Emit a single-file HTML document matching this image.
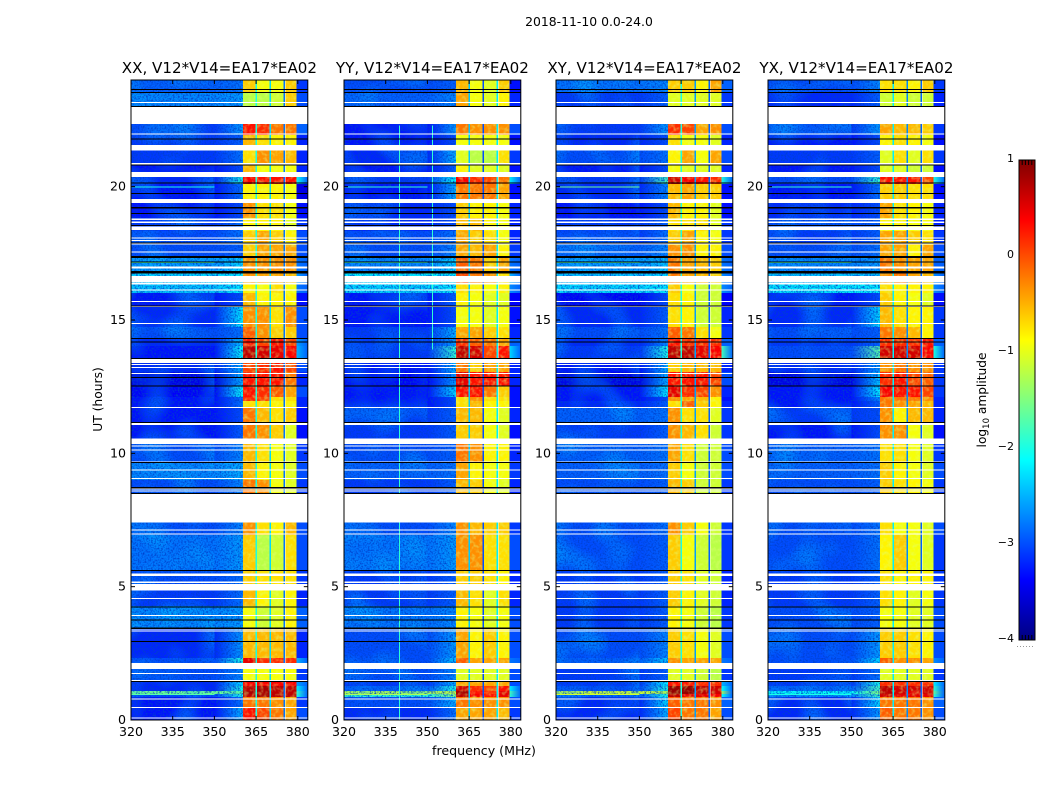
<!DOCTYPE html>
<html>
<head>
<meta charset="utf-8">
<title>2018-11-10 0.0-24.0</title>
<style>
html,body{margin:0;padding:0;background:#fff;width:1050px;height:800px;overflow:hidden}
svg{display:block}
text{font-family:"DejaVu Sans","Liberation Sans",sans-serif;fill:#000}
</style>
</head>
<body>
<svg id="chart" xmlns="http://www.w3.org/2000/svg" width="1050" height="800" viewBox="0 0 1050 800">
  <defs id="chart-defs">
    <filter id="speckle" x="0" y="0" width="100%" height="100%">
      <feTurbulence type="fractalNoise" baseFrequency="0.6" numOctaves="2" seed="3"/>
      <feColorMatrix type="matrix" values="0 0 0 0 0  0 0 0 0 0.05  0 0 0 0 0.6  0 0 0 2.6 -1.1"/>
    </filter>
    <filter id="clouds" x="0" y="0" width="100%" height="100%">
      <feTurbulence type="fractalNoise" baseFrequency="0.035" numOctaves="1" seed="8"/>
      <feColorMatrix type="matrix" values="0 0 0 0 0  0 0 0 0 0.55  0 0 0 0 1  0 0 0 1.4 -0.62"/>
    </filter>
    <filter id="band-texture" x="0" y="0" width="100%" height="100%">
      <feTurbulence type="fractalNoise" baseFrequency="0.25" numOctaves="2" seed="5"/>
      <feColorMatrix type="matrix" values="0 0 0 0 0.75  0 0 0 0 1  0 0 0 0 0.2  0 0 0 1.2 -0.52"/>
    </filter>
    <linearGradient id="jet-gradient" x1="0" y1="1" x2="0" y2="0"></linearGradient>
  </defs>
  <text x="589" y="26" font-size="12.4" text-anchor="middle">2018-11-10 0.0-24.0</text>
  <text x="484" y="755" font-size="12.6" text-anchor="middle">frequency (MHz)</text>
  <text transform="translate(102,399.5) rotate(-90)" font-size="12.3" text-anchor="middle">UT (hours)</text>
  <text transform="translate(986,400) rotate(-90)" font-size="12.2" text-anchor="middle">log<tspan font-size="8.5" dy="3">10</tspan><tspan dy="-3"> amplitude</tspan></text>
  <g id="panels"></g>
  <g id="colorbar"></g>
</svg>
<script>
// Category and tick data
const panelTitles=['XX, V12*V14=EA17*EA02','YY, V12*V14=EA17*EA02','XY, V12*V14=EA17*EA02','YX, V12*V14=EA17*EA02'];
const xTicks=[320,335,350,365,380];
const yTicks=[0,5,10,15,20];
const colorbarTicks=[1,0,-1,-2,-3,-4];
// Frequency columns: background, shoulder, four bands, upper tail (MHz)
const columnStartFreq=[320,350,360.2,365.3,370.3,375.5,379.5];
const columnEndFreq=[350,360.2,364.8,369.8,374.9,379.5,383.6];
const bandGapStartFreq=[364.75,369.75,374.85];
const bandGapEndFreq=[365.35,370.35,375.45];
// Time row edges (UT hours), top to bottom
const rowEdgeHours=[24,23.55,22.95,21.94,21.53,20.89,20.36,20.10,19.50,18.83,18.34,17.81,17.33,16.80,16.39,16.01,15.49,14.74,14.33,14.03,13.58,13.05,12.53,12.11,11.96,11.70,11.14,10.54,9.64,9.00,8.48,6.94,5.63,5.06,4.28,3.45,2.33,2.14,1.50,1.28,1.09,0.98,0.86,0.45,0];
// log10 amplitude per row: [background, shoulder, band1, band2, band3, band4, tail]
const xxLevels=[
[-2.9,-2.8,-.5,-.8,-.8,-.5,-3.1],[-2.7,-2.6,-1.1,-1.1,-1.0,-.5,-3.0],[-3.1,-2.6,.3,.2,-.1,-.1,-2.9],[-3.1,-2.9,-.4,-.6,-.7,-.7,-3.2],
[-3.1,-2.8,-.6,-.2,-.3,-.4,-3.2],[-3.3,-3.0,-.4,-.8,-.8,-.8,-3.2],[-3.2,-2.0,.4,.3,.3,.3,-2.1],[-3.3,-2.8,-.7,-.7,-.7,-.8,-3.5],
[-3.3,-3.0,-.2,-.6,-.6,-.8,-3.3],[-3.1,-2.8,-.7,-.7,-.7,-.9,-3.1],[-3.0,-2.8,-.5,-.3,-.5,-.7,-3.0],[-3.0,-2.9,-.5,-.3,-.3,-.3,-3.0],
[-2.6,-2.3,-.2,-.2,-.2,-.2,-2.8],[-2.3,-2.2,-.2,-.3,-.3,-.4,-2.6],[-2.4,-2.2,-.7,-.8,-.6,-.8,-2.8],[-3.3,-3.0,-.4,-.7,-.7,-.7,-3.3],
[-3.2,-2.2,-.2,-.2,-.6,-.2,-3.0],[-3.0,-2.8,.0,-.2,-.5,-.5,-3.0],[-3.2,-2.4,.3,.1,.3,.1,-2.6],[-3.3,-2.1,.7,.6,.5,.4,-2.5],
[-3.2,-2.5,.1,.2,.3,.1,-3.0],[-3.5,-2.5,.3,.3,.3,-.1,-3.2],[-3.4,-2.1,.3,.2,.0,-.3,-3.0],[-3.3,-2.8,.2,.1,-.6,-.6,-3.2],
[-3.3,-2.8,-.6,-.6,-.7,-.7,-3.2],[-3.3,-3.0,-.1,-.4,-.6,-.5,-3.3],[-3.3,-2.9,-.1,-.2,-.5,-.9,-3.3],[-3.0,-2.7,-.4,-.6,-.8,-.9,-3.1],
[-2.7,-2.5,-.4,-.7,-.8,-.9,-3.0],[-3.0,-2.7,-.1,-.2,-.8,-.9,-3.1],[-3.0,-2.7,-.2,-.6,-.7,-.4,-3.0],[-2.8,-2.6,-.5,-1.1,-1.0,-.6,-3.0],
[-3.0,-2.8,-.5,-.6,-.6,-.6,-3.1],[-3.1,-2.8,-.4,-.7,-.9,-.7,-3.2],[-2.7,-2.6,-.8,-1.0,-.9,-.7,-2.9],[-3.2,-2.6,-.4,-.4,-.4,-.4,-3.2],
[-3.0,-2.0,.5,.2,.2,.2,-2.5],[-3.0,-2.7,-.8,-.8,-.8,-.8,-3.1],[-3.2,-2.3,.4,.4,.4,.4,-2.6],[-3.2,-2.0,.7,.8,.7,.7,-2.2],
[-1.6,-1.7,.8,.8,.7,.7,-1.9],[-3.0,-2.0,.7,.8,.7,.7,-2.0],[-3.3,-2.8,-.1,-.1,-.2,-.3,-3.1],[-3.3,-2.5,.3,.1,-.1,-.3,-3.0]];
const yyLevels=[
[-3.0,-2.9,-.4,-.8,-.9,-.5,-3.3],[-2.9,-2.7,-.3,-.8,-.9,-.7,-3.2],[-3.3,-2.6,-.1,-.2,-.2,-.2,-3.0],[-3.3,-3.0,-.8,-.8,-.8,-.8,-3.3],
[-3.2,-2.5,-.9,-1.1,-1.1,-.6,-3.1],[-3.3,-2.9,-.7,-.9,-.9,-.9,-3.3],[-3.1,-2.1,.4,.2,.1,-.1,-2.2],[-3.3,-2.5,-.1,-.1,-.1,-.3,-3.3],
[-3.2,-3.0,-.5,-.7,-.7,-.8,-3.2],[-3.2,-3.0,-.4,-.4,-.7,-.8,-3.2],[-3.0,-2.8,-.3,-.5,-.6,-.8,-3.2],[-3.0,-2.7,-.3,-.4,-.3,-.7,-3.1],
[-2.7,-2.3,.0,-.1,-.5,-.3,-2.8],[-2.2,-2.2,.1,-.1,-.2,-.6,-2.5],[-2.3,-2.2,-.6,-.7,-.8,-.7,-2.7],[-3.3,-2.9,-.7,-.8,-.9,-.9,-3.4],
[-3.3,-3.0,-.8,-.8,-.9,-.8,-3.3],[-3.1,-2.5,-.3,-.3,-.5,-.6,-3.2],[-3.1,-2.6,.2,.0,-.1,-.3,-2.9],[-3.1,-1.9,.7,.6,.1,.3,-2.3],
[-3.3,-2.5,-.1,-.5,-.3,-.3,-3.2],[-3.4,-2.6,.5,.3,.3,.3,-3.2],[-3.3,-2.3,.3,.3,-.1,-.5,-3.3],[-3.3,-3.0,-.6,-.2,-.6,-.6,-3.3],
[-3.3,-3.0,-.6,-.4,-.7,-.7,-3.3],[-3.1,-2.9,-.4,-.4,-.8,-.9,-3.2],[-3.1,-2.9,-.5,-.5,-.8,-.9,-3.3],[-3.0,-2.9,-.1,-.2,-.7,-.7,-3.2],
[-2.9,-2.8,-.3,-.7,-.8,-.8,-3.1],[-3.1,-2.9,-.4,-.5,-.8,-.9,-3.2],[-3.0,-2.7,-.2,-.4,-.5,-.5,-3.1],[-2.8,-2.6,-.2,-.2,-.6,-.6,-3.0],
[-3.1,-2.9,-.5,-.5,-.6,-.7,-3.2],[-3.1,-2.9,-.4,-.6,-.9,-.6,-3.2],[-2.8,-2.7,-.7,-.8,-.9,-.8,-3.0],[-3.0,-2.6,-.3,-.7,-.5,-.7,-3.0],
[-3.0,-2.4,.0,-.3,-.3,-.3,-2.8],[-3.0,-2.7,-.9,-.9,-.9,-.9,-3.0],[-3.1,-2.5,-.3,-.3,-.3,-.3,-3.0],[-2.9,-2.0,.6,.2,.1,.3,-2.2],
[-1.3,-1.2,.8,.3,.2,.5,-1.8],[-1.9,-1.5,.7,.4,.3,.5,-1.9],[-3.0,-2.5,-.1,-.2,-.2,-.2,-3.0],[-3.2,-2.8,-.3,-.3,-.3,-.4,-3.1]];
const xyLevels=[
[-2.8,-2.7,-.5,-.5,-.7,-.3,-2.9],[-3.1,-2.9,-.9,-.9,-.9,-.9,-3.1],[-3.1,-2.6,.2,.1,-.3,-.2,-3.0],[-3.2,-3.0,-.6,-.8,-.8,-.9,-3.2],
[-3.0,-2.8,-.7,-.3,-.8,-.3,-3.0],[-3.3,-3.0,-.8,-.9,-.9,-.9,-3.2],[-3.1,-1.8,.6,.4,.3,.2,-2.0],[-3.2,-2.7,-.4,-.3,-.5,-.5,-3.3],
[-3.3,-3.0,-.4,-.7,-.7,-.9,-3.3],[-3.1,-2.9,-.6,-.6,-.6,-.9,-3.1],[-3.1,-2.8,-.5,-.3,-.7,-.8,-3.1],[-2.9,-2.7,-.2,-.2,-.7,-.7,-3.0],
[-2.6,-2.4,-.1,-.3,-.4,-.5,-2.8],[-2.4,-2.3,-.1,-.3,-.4,-.5,-2.7],[-2.3,-2.2,-.5,-.8,-1.0,-1.0,-2.7],[-3.4,-3.0,-.6,-.7,-1.0,-1.0,-3.4],
[-3.2,-2.9,-.6,-.7,-1.0,-1.0,-3.2],[-3.0,-2.8,.0,-.1,-.6,-.8,-3.1],[-3.2,-2.7,.3,.2,.2,.2,-2.9],[-3.1,-2.0,.7,.7,.5,.4,-1.8],
[-3.3,-2.5,-.5,-.4,-.4,-.4,-3.2],[-3.5,-2.5,.3,.3,.3,.1,-3.0],[-3.3,-2.2,.5,.2,.1,-.2,-3.2],[-3.3,-3.0,-.2,-.3,-.4,-.7,-3.3],
[-3.2,-2.9,-.6,.0,-.5,-.7,-3.2],[-2.9,-2.8,-.2,-.6,-.6,-.9,-3.1],[-3.1,-2.9,-.2,-.4,-.6,-1.0,-3.1],[-2.9,-2.8,-.3,-.6,-1.0,-1.0,-3.0],
[-2.9,-2.8,-.5,-.8,-1.0,-1.0,-3.0],[-3.0,-2.9,-.4,-.5,-1.0,-1.0,-3.1],[-3.0,-2.8,-.2,-.5,-.8,-1.0,-3.1],[-3.0,-2.9,-.5,-.8,-1.0,-1.1,-3.1],
[-3.1,-2.9,-.5,-.6,-.9,-1.0,-3.2],[-3.1,-2.9,-.5,-.7,-.9,-1.0,-3.2],[-3.1,-2.9,-.7,-.8,-1.0,-1.1,-3.1],[-3.0,-2.7,-.5,-.6,-.8,-.9,-3.0],
[-2.9,-2.4,-.2,-.3,-.3,-.3,-2.8],[-3.1,-2.9,-.9,-.9,-1.0,-1.1,-3.1],[-3.1,-2.2,.3,.3,.2,.2,-2.5],[-3.0,-2.0,.9,.9,.7,.6,-2.1],
[-1.1,-1.3,.9,.9,.7,.6,-1.4],[-2.9,-2.0,.7,.5,.5,.4,-2.1],[-3.2,-2.3,.0,-.1,-.1,-.2,-2.9],[-3.2,-2.5,.1,-.1,-.1,-.3,-3.0]];
const yxLevels=[
[-3.0,-2.7,-.6,-.6,-.7,-.5,-3.1],[-3.2,-2.9,-1.0,-.9,-1.0,-1.0,-3.2],[-3.1,-2.6,-.3,-.4,-.4,-.5,-3.1],[-3.3,-3.0,-.7,-.6,-.7,-.8,-3.3],
[-3.1,-2.9,-.9,-.6,-.9,-.6,-3.1],[-3.3,-3.0,-.9,-.9,-1.0,-1.0,-3.3],[-3.0,-1.9,.3,.3,.3,.1,-2.0],[-3.3,-2.8,-.5,-.5,-.6,-.6,-3.3],
[-3.2,-3.0,-.3,-.6,-.7,-.8,-3.2],[-3.0,-2.9,-.7,-.7,-.8,-.8,-3.2],[-3.1,-2.9,-.3,-.3,-.5,-.6,-3.1],[-3.0,-2.8,-.3,-.3,-.7,-.3,-3.0],
[-2.7,-2.6,-.1,-.2,-.3,-.3,-2.9],[-2.4,-2.4,-.2,-.1,-.3,-.4,-2.7],[-2.2,-2.2,-.6,-.7,-.7,-.7,-2.7],[-3.3,-3.0,-.5,-.7,-.8,-.9,-3.3],
[-3.2,-2.3,-.4,-.6,-.7,-.7,-3.1],[-3.0,-2.9,-.1,-.2,-.4,-.7,-3.1],[-3.1,-2.9,.2,.2,.2,.3,-2.9],[-3.0,-1.7,.6,.6,.6,.4,-2.0],
[-3.2,-2.6,-.2,-.1,-.2,-.2,-3.1],[-3.5,-2.4,.2,.3,.1,.0,-3.1],[-3.3,-2.2,.4,.3,.3,.1,-3.1],[-3.3,-2.7,-.1,-.1,-.1,-.2,-3.2],
[-3.3,-2.9,-.1,-.2,-.3,-.4,-3.2],[-3.1,-3.0,-.2,-.7,-.4,-.4,-3.2],[-3.3,-3.0,-.2,-.2,-.8,-.9,-3.3],[-2.9,-2.8,-.6,-.6,-.8,-.9,-3.1],
[-2.9,-2.8,-.5,-.7,-.8,-.9,-3.0],[-3.0,-2.9,-.5,-.6,-.7,-.8,-3.1],[-3.0,-2.8,-.6,-.8,-.8,-.9,-3.0],[-3.0,-2.8,-.7,-.5,-.8,-.9,-3.1],
[-3.1,-2.9,-.6,-.7,-.7,-.7,-3.1],[-3.1,-2.9,-.6,-.7,-.9,-.8,-3.1],[-3.0,-2.9,-.8,-.8,-.9,-.9,-3.0],[-3.0,-2.6,-.5,-.5,-.6,-.7,-3.0],
[-3.0,-2.3,.0,-.2,-.2,-.3,-2.7],[-3.1,-2.8,-.9,-.9,-.9,-.9,-3.1],[-3.1,-2.0,.2,.2,.2,.2,-2.2],[-2.9,-1.8,.7,.6,.6,.6,-1.9],
[-2.1,-1.5,.7,.6,.5,.6,-1.7],[-2.7,-1.8,.6,.5,.5,.5,-1.9],[-3.2,-2.3,-.1,-.1,-.1,-.2,-2.9],[-3.2,-2.6,.0,-.1,-.1,-.2,-3.0]];
const panelLevels=[xxLevels,yyLevels,xyLevels,yxLevels];
// log10 amplitude in the narrow gaps between bands, per panel
const xxGapLevels=[-2.0,-2.3,-2.8];
const yyGapLevels=[-2.4,-3.0,-2.2];
const xyGapLevels=[-2.0,-2.6,-2.9];
const yxGapLevels=[-2.2,-2.7,-2.9];
const panelGapLevels=[xxGapLevels,yyGapLevels,xyGapLevels,yxGapLevels];
// Narrow RFI channels visible in YY
const yyChannelFreq=[339.8,351.6];
const yyChannelTopHour=[22.3,22.3];
const yyChannelBottomHour=[0,13.9];
const yyChannelLevel=[-1.9,-1.9];
// Bright spiky time rows in the background band
const spikeHours=[19.98,17.16,0.95];
const spikeLevelsXX=[-2.0,-1.7,-1.7];
const spikeLevelsYY=[-1.9,-1.8,-1.3];
const spikeLevelsXY=[-1.6,-1.7,-1.1];
const spikeLevelsYX=[-1.9,-1.7,-2.0];
const panelSpikeLevels=[spikeLevelsXX,spikeLevelsYY,spikeLevelsXY,spikeLevelsYX];
// Flagged (blank) time ranges, UT hours
const flagStartHours=[23.18,22.98,22.00,21.56,20.88,20.55,19.53,18.81,18.69,18.50,18.10,18.00,17.88,17.56,17.00,16.65,16.38,16.15,15.71,15.53,14.88,13.56,13.35,13.24,13.01,11.74,11.15,10.55,10.30,10.15,9.69,9.40,9.08,8.69,8.60,8.48,7.15,7.00,5.50,5.20,5.10,4.58,3.94,3.46,3.36,2.13,1.77,1.50,0.80,0.48,0.10];
const flagEndHours=[23.13,22.35,21.95,21.35,20.82,20.37,19.38,18.75,18.64,18.38,18.06,17.96,17.84,17.54,16.94,16.40,16.34,16.11,15.68,15.48,14.85,13.39,13.31,13.20,12.99,11.70,11.07,10.35,10.28,10.13,9.65,9.38,9.04,8.65,8.56,7.40,7.13,6.98,5.40,5.13,4.85,4.55,3.91,3.40,3.33,1.91,1.75,1.46,0.78,0.45,0.06];
// Zero-amplitude time rows (drawn black), UT hours
const darkRowHours=[23.65,23.53,23.00,21.78,20.81,20.13,19.75,19.21,19.00,18.54,17.89,17.38,17.34,17.18,16.81,16.77,15.53,14.31,14.18,13.56,12.85,12.53,11.16,9.65,8.71,8.49,5.61,4.23,3.75,3.44,2.95,1.44];

// Layout and scales
const NS='http://www.w3.org/2000/svg';
const panelLeft=[131,344,556,768];
const plotTop=80,plotBottom=720,plotWidth=176.8;
const freqMin=320,freqMax=383.6,hourMax=24;
const vMin=-4,vMax=1;
const barLeft=1019,barTop=160,barWidth=16,barHeight=480;
const bandCalibration=0.12;
function xScale(p,f){return panelLeft[p]+(f-freqMin)/(freqMax-freqMin)*plotWidth;}
function yScale(h){return plotBottom-h/hourMax*(plotBottom-plotTop);}
function clip01(v){return Math.max(0,Math.min(1,v));}
function jet(t){
  const r=clip01(1.5-Math.abs(4*t-3)),g=clip01(1.5-Math.abs(4*t-2)),b=clip01(1.5-Math.abs(4*t-1));
  return 'rgb('+Math.round(r*255)+','+Math.round(g*255)+','+Math.round(b*255)+')';
}
function colorOf(v){return jet(clip01((v-vMin)/(vMax-vMin)));}
function bandColorOf(v){return colorOf(v-bandCalibration*clip01((0.3-v)/0.5));}
function make(tag,attrs,parent){
  const el=document.createElementNS(NS,tag);
  for(const k in attrs)el.setAttribute(k,attrs[k]);
  parent.appendChild(el);
  return el;
}
function hRect(p,f0,f1,h0,h1,fill,parent){
  const y0=yScale(h0),y1=yScale(h1);
  return make('rect',{x:xScale(p,f0),y:y0,width:xScale(p,f1)-xScale(p,f0),height:Math.max(1,y1-y0),fill:fill,'shape-rendering':'crispEdges'},parent);
}
const chartDefs=document.getElementById('chart-defs');
function rampFill(id,fromLevel,toLevel){
  const lg=make('linearGradient',{id:id,x1:0,y1:0,x2:1,y2:0},chartDefs);
  make('stop',{offset:0,'stop-color':colorOf(fromLevel)},lg);
  make('stop',{offset:1,'stop-color':colorOf(toLevel)},lg);
  return 'url(#'+id+')';
}
const panelsRoot=document.getElementById('panels');
panelTitles.forEach(function(title,p){
  const g=make('g',{},panelsRoot);
  
  
  const levels=panelLevels[p];
  levels.forEach(function(row,r){
    row.forEach(function(v,c){
      let fill;
      if(c===1){fill=rampFill('shoulder-'+p+'-'+r,row[0],v);}
      else if(c===6){fill=rampFill('tail-'+p+'-'+r,v,Math.min(v,-2.9));}
      else if(c===0){fill=colorOf(v);}
      else{fill=bandColorOf(v);}
      const cell=hRect(p,columnStartFreq[c],columnEndFreq[c],rowEdgeHours[r],rowEdgeHours[r+1],fill,g);
      
      
    });
  });
  const tex=make('rect',{x:xScale(p,columnStartFreq[2]),y:plotTop,width:xScale(p,columnEndFreq[5])-xScale(p,columnStartFreq[2]),height:plotBottom-plotTop,filter:'url(#band-texture)'},g);
  
  
  panelGapLevels[p].forEach(function(v,i){
    const gap=hRect(p,bandGapStartFreq[i],bandGapEndFreq[i],hourMax,0,colorOf(v),g);
    
    
  });
  const cloud=make('rect',{x:xScale(p,freqMin),y:plotTop,width:xScale(p,columnEndFreq[0])-xScale(p,freqMin),height:plotBottom-plotTop,filter:'url(#clouds)'},g);
  
  
  const speck=make('rect',{x:xScale(p,freqMin),y:plotTop,width:xScale(p,columnEndFreq[1])-xScale(p,freqMin),height:plotBottom-plotTop,filter:'url(#speckle)'},g);
  
  
  if(p===1){
    yyChannelFreq.forEach(function(f,i){
      const ch=hRect(p,f,f+0.36,yyChannelTopHour[i],yyChannelBottomHour[i],colorOf(yyChannelLevel[i]),g);
      
      
    });
  }
  spikeHours.forEach(function(h,i){
    const sp=hRect(p,freqMin,columnEndFreq[0],h+0.02,h-0.02,colorOf(panelSpikeLevels[p][i]),g);
    
    
  });
  flagStartHours.forEach(function(h,i){
    const fl=hRect(p,freqMin,freqMax,h,flagEndHours[i],'#fff',g);
    
    
  });
  darkRowHours.forEach(function(h){
    const dk=hRect(p,freqMin,freqMax,h+0.02,h-0.02,'#000',g);
    
    
  });
  const frame=make('rect',{x:panelLeft[p],y:plotTop,width:plotWidth,height:plotBottom-plotTop,fill:'none',stroke:'#000','stroke-width':1},g);
  
  
  xTicks.forEach(function(f){
    const x=xScale(p,f);
    const t1=make('line',{x1:x,x2:x,y1:plotBottom,y2:plotBottom-4,stroke:'#000','stroke-width':1},g);
    
    
    const t2=make('line',{x1:x,x2:x,y1:plotTop,y2:plotTop+4,stroke:'#000','stroke-width':1},g);
    
    
    const lab=make('text',{x:x,y:plotBottom+16,'font-size':12.6,'text-anchor':'middle'},g);
    lab.textContent=String(f);
    
    
  });
  yTicks.forEach(function(h){
    const y=yScale(h);
    const t1=make('line',{x1:panelLeft[p],x2:panelLeft[p]+4,y1:y,y2:y,stroke:'#000','stroke-width':1},g);
    
    
    const t2=make('line',{x1:panelLeft[p]+plotWidth,x2:panelLeft[p]+plotWidth-4,y1:y,y2:y,stroke:'#000','stroke-width':1},g);
    
    
    const lab=make('text',{x:panelLeft[p]-5,y:y+4,'font-size':12.6,'text-anchor':'end'},g);
    lab.textContent=String(h);
    
    
  });
  const ttl=make('text',{x:panelLeft[p]+plotWidth/2,y:plotTop-7,'font-size':15.1,'text-anchor':'middle'},g);
  ttl.textContent=title;
  
  
});
// Colorbar
const grad=document.getElementById('jet-gradient');
for(let i=0;i<=32;i++){
  make('stop',{offset:(i/32),'stop-color':jet(i/32)},grad);
}
const barRoot=document.getElementById('colorbar');
const bar=make('rect',{x:barLeft,y:barTop,width:barWidth,height:barHeight,fill:'url(#jet-gradient)',stroke:'#000','stroke-width':1},barRoot);


function barY(v){return barTop+(vMax-v)/(vMax-vMin)*barHeight;}
colorbarTicks.forEach(function(v){
  const lab=make('text',{x:barLeft-5,y:barY(v)+2,'font-size':11,'text-anchor':'end'},barRoot);
  lab.textContent=(v<0?'\u2212':'')+Math.abs(v);
  
  
});
[0.2,0.4,0.6,0.8].forEach(function(frac){
  const x=barLeft+frac*barWidth;
  const a=make('line',{x1:x,x2:x,y1:barTop,y2:barTop+5,stroke:'#000','stroke-width':1},barRoot);
  
  
  const b=make('line',{x1:x,x2:x,y1:barTop+barHeight,y2:barTop+barHeight-5,stroke:'#000','stroke-width':1},barRoot);
  
  
});
const dots=make('line',{x1:barLeft-2,x2:barLeft+barWidth,y1:646.5,y2:646.5,stroke:'#999','stroke-width':1,'stroke-dasharray':'1 2'},barRoot);


</script>
</body>
</html>
